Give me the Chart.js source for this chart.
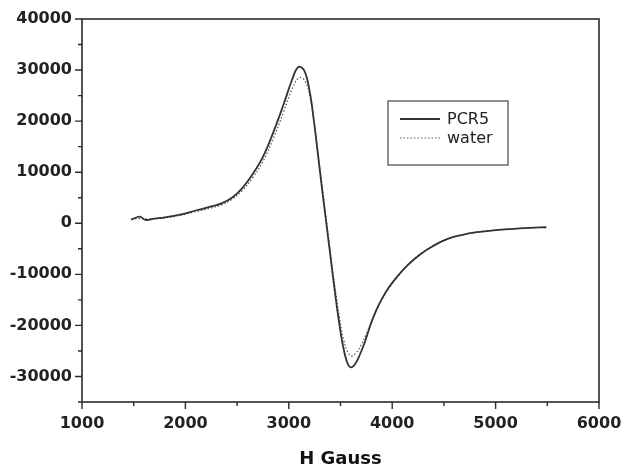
<!DOCTYPE html>
<html>
<head>
<meta charset="utf-8">
<script src="https://cdn.jsdelivr.net/npm/chart.js@4.4.1/dist/chart.umd.min.js"></script>
<style>
  html, body { margin: 0; padding: 0; background: #fff; }
  #wrap { width: 621px; height: 468px; position: relative; }
</style>
</head>
<body>
<div id="wrap"><canvas id="c" width="621" height="468"></canvas></div>
<script>
// ---- Data ----
const seriesNames = ['PCR5', 'water'];

const pcrH   = [1475, 1560, 1610, 1700, 1800, 1950, 2100, 2250, 2350, 2450, 2550, 2650, 2750, 2850, 2950, 3030, 3092, 3150, 3200, 3240, 3280, 3320, 3360, 3400, 3440, 3480, 3520, 3560, 3595, 3640, 3690, 3740, 3790, 3840, 3900, 3970, 4050, 4150, 4270, 4400, 4530, 4670, 4820, 5000, 5170, 5330, 5490];
const pcrVal = [720, 1300, 660, 900, 1150, 1700, 2500, 3300, 3900, 5000, 6900, 9600, 13000, 17800, 23300, 28000, 30600, 29900, 26000, 20500, 13800, 7000, 500, -6000, -12500, -18500, -23600, -27000, -28200, -27600, -25600, -23000, -19900, -17300, -14800, -12500, -10400, -8200, -6100, -4400, -3100, -2300, -1750, -1350, -1100, -900, -780];

const waterH   = [1480, 1560, 1650, 1800, 1950, 2100, 2250, 2350, 2450, 2550, 2650, 2750, 2850, 2950, 3030, 3100, 3160, 3210, 3250, 3290, 3330, 3370, 3410, 3450, 3490, 3530, 3570, 3605, 3650, 3700, 3750, 3800, 3850, 3910, 3980, 4060, 4150, 4270, 4400, 4530, 4670, 4820, 5000, 5170, 5330, 5490];
const waterVal = [800, 900, 850, 1050, 1550, 2300, 3000, 3600, 4700, 6400, 8900, 12100, 16600, 21800, 26200, 28500, 27800, 24300, 19000, 12500, 6000, -500, -7000, -13000, -18500, -22800, -25200, -26000, -25400, -23800, -21700, -19200, -16900, -14600, -12400, -10300, -8100, -6000, -4300, -3100, -2300, -1750, -1350, -1100, -900, -780];

const xTicks = [1000, 2000, 3000, 4000, 5000, 6000];
const xMinorTicks = [1500, 2500, 3500, 4500, 5500];
const yTicks = [-30000, -20000, -10000, 0, 10000, 20000, 30000, 40000];
const yMinorTicks = [-35000, -25000, -15000, -5000, 5000, 15000, 25000, 35000];
const xTitle = 'H Gauss';

// ---- Helpers ----
const toPoints = (xs, ys) => xs.map((x, i) => ({ x: x, y: ys[i] }));
const INK = '#2b2b2b';

const framePlugin = {
  id: 'frame',
  afterDraw(chart) {
    const ctx = chart.ctx;
    const a = chart.chartArea;
    const xs = chart.scales.x, ys = chart.scales.y;
    ctx.save();
    ctx.strokeStyle = INK;
    ctx.lineWidth = 1.6;
    ctx.strokeRect(a.left, a.top, a.right - a.left, a.bottom - a.top);
    ctx.lineWidth = 1.4;
    ctx.beginPath();
    xTicks.forEach(v => { const p = xs.getPixelForValue(v); ctx.moveTo(p, a.bottom); ctx.lineTo(p, a.bottom + 7); });
    xMinorTicks.forEach(v => { const p = xs.getPixelForValue(v); ctx.moveTo(p, a.bottom); ctx.lineTo(p, a.bottom + 4); });
    yTicks.forEach(v => { const p = ys.getPixelForValue(v); ctx.moveTo(a.left, p); ctx.lineTo(a.left - 7, p); });
    yMinorTicks.forEach(v => { const p = ys.getPixelForValue(v); ctx.moveTo(a.left, p); ctx.lineTo(a.left - 4, p); });
    ctx.stroke();

    // legend box
    const bx = 388, by = 101, bw = 120, bh = 64;
    ctx.strokeStyle = '#6a6a6a';
    ctx.lineWidth = 1.5;
    ctx.strokeRect(bx, by, bw, bh);
    chart.data.datasets.forEach((ds, i) => {
      const ly = by + 18 + i * 19;
      ctx.beginPath();
      ctx.strokeStyle = ds.borderColor;
      ctx.lineWidth = ds.borderWidth;
      ctx.setLineDash(ds.borderDash || []);
      ctx.moveTo(bx + 12, ly);
      ctx.lineTo(bx + 52, ly);
      ctx.stroke();
      ctx.setLineDash([]);
      ctx.fillStyle = '#222';
      ctx.font = '16px "DejaVu Sans"';
      ctx.textBaseline = 'middle';
      ctx.textAlign = 'left';
      ctx.fillText(ds.label, bx + 59, ly + 1);
    });
    ctx.restore();
  }
};

new Chart(document.getElementById('c'), {
  type: 'line',
  data: {
    datasets: [
      {
        label: seriesNames[0],
        data: toPoints(pcrH, pcrVal),
        borderColor: '#333333',
        borderWidth: 1.8,
        pointRadius: 0,
        fill: false,
        tension: 0.4
      },
      {
        label: seriesNames[1],
        data: toPoints(waterH, waterVal),
        borderColor: '#555555',
        borderWidth: 1.2,
        borderDash: [1.5, 2],
        pointRadius: 0,
        fill: false,
        tension: 0.4
      }
    ]
  },
  options: {
    responsive: false,
    animation: false,
    layout: { padding: { top: 19, right: 22, left: 0, bottom: 0 } },
    plugins: { legend: { display: false }, tooltip: { enabled: false } },
    scales: {
      x: {
        type: 'linear',
        min: 1000, max: 6000,
        afterBuildTicks: s => { s.ticks = xTicks.map(v => ({ value: v })); },
        afterFit: s => { s.height = 66; s.paddingLeft = 0; s.paddingRight = 0; },
        grid: { drawOnChartArea: false, drawTicks: false },
        border: { display: false },
        ticks: {
          color: '#222',
          font: { family: 'DejaVu Sans', size: 16, weight: 'bold' },
          padding: 12,
          maxRotation: 0,
          callback: v => String(v)
        },
        title: {
          display: true,
          text: xTitle,
          color: '#111',
          font: { family: 'DejaVu Sans', size: 18, weight: 'bold' },
          padding: { top: 6, bottom: -2 }
        }
      },
      y: {
        type: 'linear',
        min: -35000, max: 40000,
        afterBuildTicks: s => { s.ticks = yTicks.map(v => ({ value: v })); },
        afterFit: s => { s.width = 82; s.paddingTop = 0; s.paddingBottom = 0; },
        grid: { drawOnChartArea: false, drawTicks: false },
        border: { display: false },
        ticks: {
          color: '#222',
          font: { family: 'DejaVu Sans', size: 16, weight: 'bold' },
          padding: 10,
          callback: v => String(v)
        }
      }
    }
  },
  plugins: [framePlugin]
});
</script>
</body>
</html>
